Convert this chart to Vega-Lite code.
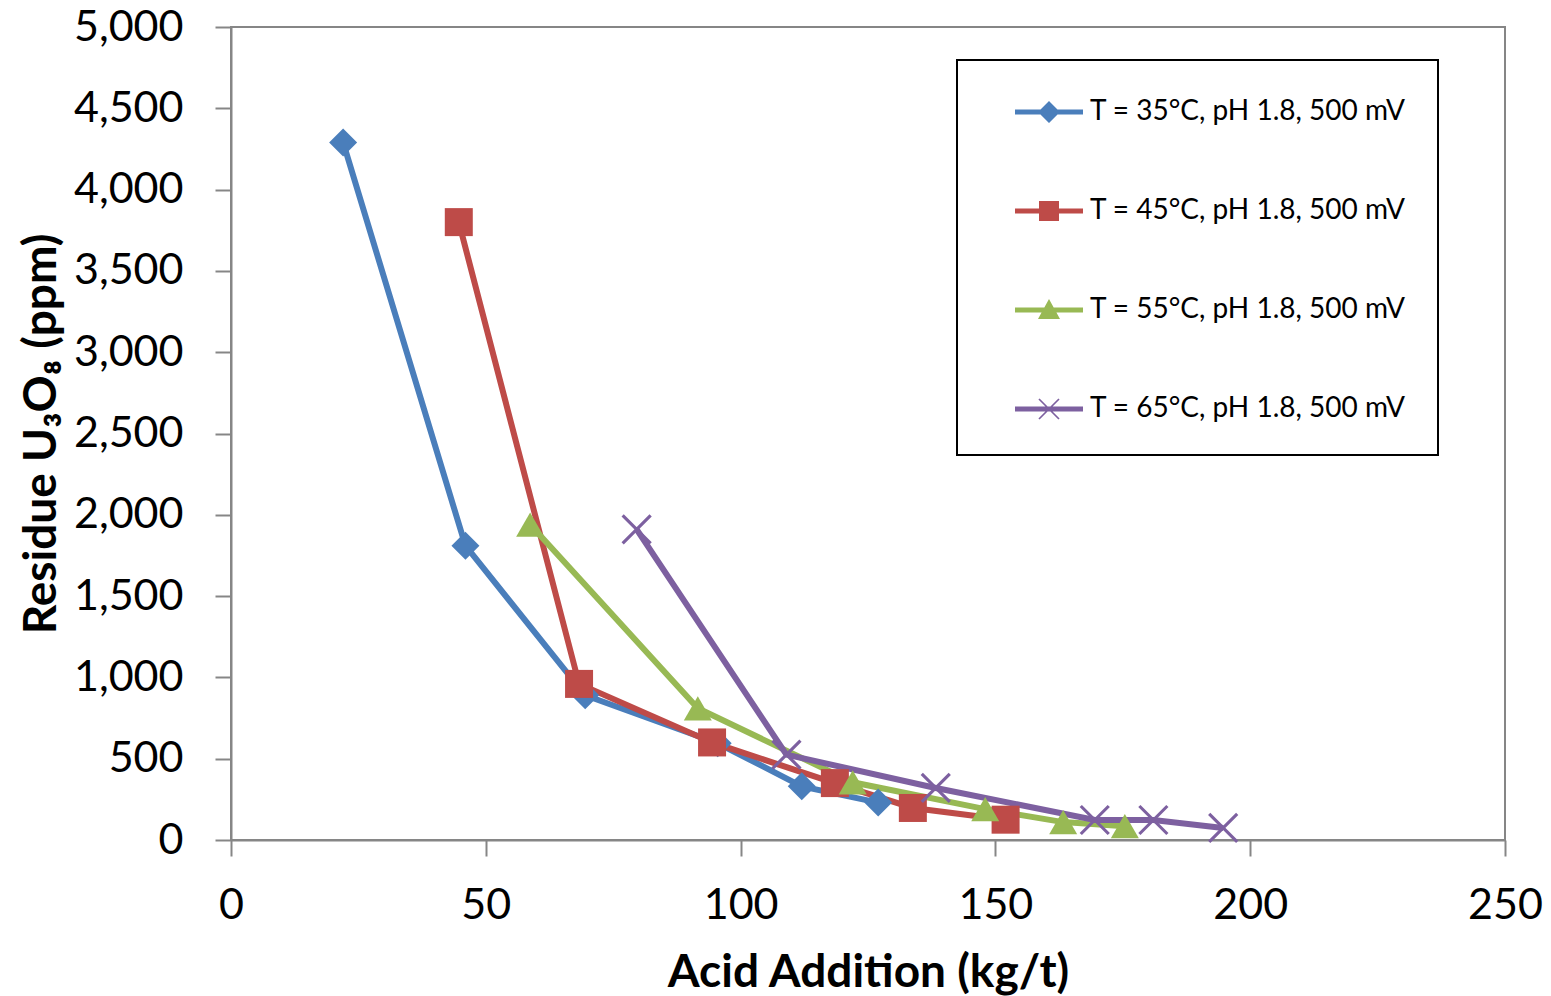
{
  "$schema": "https://vega.github.io/schema/vega-lite/v6.json",
  "width": 1274,
  "height": 813,
  "autosize": {"type": "none"},
  "padding": {"left": 231, "top": 27, "right": 46, "bottom": 156},
  "background": "white",
  "config": {
    "view": {"stroke": "#868686", "strokeWidth": 2},
    "font": "Lato",
    "legend": {"strokeWidth": 2}
  },
  "data": {
    "values": [
      {"series": "T = 35°C, pH 1.8, 500 mV", "acid": 22, "u3o8": 4290},
      {"series": "T = 35°C, pH 1.8, 500 mV", "acid": 46, "u3o8": 1810},
      {"series": "T = 35°C, pH 1.8, 500 mV", "acid": 69.5, "u3o8": 890},
      {"series": "T = 35°C, pH 1.8, 500 mV", "acid": 95.5, "u3o8": 595},
      {"series": "T = 35°C, pH 1.8, 500 mV", "acid": 112, "u3o8": 330},
      {"series": "T = 35°C, pH 1.8, 500 mV", "acid": 127, "u3o8": 230},
      {"series": "T = 45°C, pH 1.8, 500 mV", "acid": 44.7, "u3o8": 3800},
      {"series": "T = 45°C, pH 1.8, 500 mV", "acid": 68.3, "u3o8": 960},
      {"series": "T = 45°C, pH 1.8, 500 mV", "acid": 94.4, "u3o8": 600},
      {"series": "T = 45°C, pH 1.8, 500 mV", "acid": 118.5, "u3o8": 350},
      {"series": "T = 45°C, pH 1.8, 500 mV", "acid": 133.8, "u3o8": 197},
      {"series": "T = 45°C, pH 1.8, 500 mV", "acid": 152, "u3o8": 125},
      {"series": "T = 55°C, pH 1.8, 500 mV", "acid": 58.7, "u3o8": 1940},
      {"series": "T = 55°C, pH 1.8, 500 mV", "acid": 91.6, "u3o8": 810},
      {"series": "T = 55°C, pH 1.8, 500 mV", "acid": 122, "u3o8": 355},
      {"series": "T = 55°C, pH 1.8, 500 mV", "acid": 148, "u3o8": 190},
      {"series": "T = 55°C, pH 1.8, 500 mV", "acid": 163.3, "u3o8": 110},
      {"series": "T = 55°C, pH 1.8, 500 mV", "acid": 175.4, "u3o8": 85},
      {"series": "T = 65°C, pH 1.8, 500 mV", "acid": 79.6, "u3o8": 1910},
      {"series": "T = 65°C, pH 1.8, 500 mV", "acid": 109, "u3o8": 525},
      {"series": "T = 65°C, pH 1.8, 500 mV", "acid": 138.3, "u3o8": 320},
      {"series": "T = 65°C, pH 1.8, 500 mV", "acid": 169.5, "u3o8": 123},
      {"series": "T = 65°C, pH 1.8, 500 mV", "acid": 181, "u3o8": 123},
      {"series": "T = 65°C, pH 1.8, 500 mV", "acid": 194.7, "u3o8": 74}
    ]
  },
  "encoding": {
    "x": {
      "field": "acid",
      "type": "quantitative",
      "scale": {"domain": [0, 250], "nice": false},
      "axis": {
        "title": "Acid Addition (kg/t)",
        "values": [0, 50, 100, 150, 200, 250],
        "grid": false,
        "domainColor": "#868686",
        "domainWidth": 2,
        "tickColor": "#868686",
        "tickWidth": 2,
        "tickSize": 16,
        "labelFontSize": 43,
        "labelFont": "Lato",
        "labelColor": "black",
        "labelPadding": 28,
        "labelFlush": false,
        "labelOverlap": false,
        "titleFontSize": 46,
        "titleFont": "Lato",
        "titleFontWeight": "bold",
        "titleColor": "black",
        "titlePadding": 23
      }
    },
    "y": {
      "field": "u3o8",
      "type": "quantitative",
      "scale": {"domain": [0, 5000], "nice": false},
      "axis": {
        "title": "Residue U₃O₈ (ppm)",
        "values": [0, 500, 1000, 1500, 2000, 2500, 3000, 3500, 4000, 4500, 5000],
        "format": ",d",
        "grid": false,
        "domainColor": "#868686",
        "domainWidth": 2,
        "tickColor": "#868686",
        "tickWidth": 2,
        "tickSize": 16,
        "labelFontSize": 43,
        "labelFont": "Lato",
        "labelColor": "black",
        "labelPadding": 32,
        "labelFlush": false,
        "labelOverlap": false,
        "titleFontSize": 46,
        "titleFont": "Lato",
        "titleFontWeight": "bold",
        "titleColor": "black",
        "titlePadding": 8
      }
    }
  },
  "layer": [
    {
      "mark": {"type": "line", "strokeWidth": 6},
      "encoding": {
        "color": {
          "field": "series",
          "type": "nominal",
          "scale": {
            "domain": ["T = 35°C, pH 1.8, 500 mV", "T = 45°C, pH 1.8, 500 mV", "T = 55°C, pH 1.8, 500 mV", "T = 65°C, pH 1.8, 500 mV"],
            "range": ["#4A7EBB", "#BE4B48", "#98B954", "#7D60A0"]
          },
          "legend": null
        }
      }
    },
    {
      "mark": {"type": "point", "filled": true, "size": 784, "opacity": 1},
      "encoding": {
        "color": {
          "field": "series",
          "type": "nominal",
          "scale": {
            "domain": ["T = 35°C, pH 1.8, 500 mV", "T = 45°C, pH 1.8, 500 mV", "T = 55°C, pH 1.8, 500 mV", "T = 65°C, pH 1.8, 500 mV"],
            "range": ["#4A7EBB", "#BE4B48", "#98B954", "#7D60A0"]
          },
          "legend": null
        },
        "shape": {
          "field": "series",
          "type": "nominal",
          "scale": {
            "domain": ["T = 35°C, pH 1.8, 500 mV", "T = 45°C, pH 1.8, 500 mV", "T = 55°C, pH 1.8, 500 mV", "T = 65°C, pH 1.8, 500 mV"],
            "range": ["diamond", "square", "triangle-up", "M-0.92,-1.08L1.08,0.92L0.92,1.08L-1.08,-0.92Z M-0.92,1.08L-1.08,0.92L0.92,-1.08L1.08,-0.92Z"]
          },
          "legend": null
        }
      }
    },
    {
      "transform": [{"filter": "false"}],
      "mark": {"type": "point", "filled": true, "opacity": 1},
      "encoding": {
        "color": {
          "field": "series",
          "type": "nominal",
          "scale": {
            "domain": ["T = 35°C, pH 1.8, 500 mV", "T = 45°C, pH 1.8, 500 mV", "T = 55°C, pH 1.8, 500 mV", "T = 65°C, pH 1.8, 500 mV"],
            "range": ["#4A7EBB", "#BE4B48", "#98B954", "#7D60A0"]
          },
          "legend": {
            "title": null,
            "orient": "none",
            "legendX": 726,
            "legendY": 33,
            "padding": 32,
            "rowPadding": 65,
            "symbolSize": 1600,
            "symbolOffset": 40,
            "symbolStrokeWidth": 0,
            "labelOffset": 21,
            "labelFontSize": 28,
            "labelFont": "Lato",
            "labelColor": "black",
            "labelLimit": 800,
            "strokeColor": "black",
            "fillColor": "white"
          }
        },
        "shape": {
          "field": "series",
          "type": "nominal",
          "scale": {
            "domain": ["T = 35°C, pH 1.8, 500 mV", "T = 45°C, pH 1.8, 500 mV", "T = 55°C, pH 1.8, 500 mV", "T = 65°C, pH 1.8, 500 mV"],
            "range": [
              "M-1.7,-0.125H1.7V0.125H-1.7Z M0,-0.55L0.55,0L0,0.55L-0.55,0Z",
              "M-1.7,-0.125H1.7V0.125H-1.7Z M-0.5,-0.5H0.5V0.5H-0.5Z",
              "M-1.7,-0.125H1.7V0.125H-1.7Z M0,-0.55L0.55,0.45H-0.55Z",
              "M-1.7,-0.125H1.7V0.125H-1.7Z M-0.47,-0.53L0.53,0.47L0.47,0.53L-0.53,-0.47Z M-0.47,0.53L-0.53,0.47L0.47,-0.53L0.53,-0.47Z"
            ]
          },
          "legend": {
            "title": null,
            "orient": "none",
            "legendX": 726,
            "legendY": 31,
            "padding": 32,
            "rowPadding": 65,
            "symbolSize": 1600,
            "symbolOffset": 40,
            "symbolStrokeWidth": 0,
            "labelOffset": 21,
            "labelFontSize": 28,
            "labelFont": "Lato",
            "labelColor": "black",
            "labelLimit": 800,
            "strokeColor": "black",
            "fillColor": "white"
          }
        }
      }
    }
  ],
  "resolve": {"scale": {"color": "independent", "shape": "independent"}}
}
